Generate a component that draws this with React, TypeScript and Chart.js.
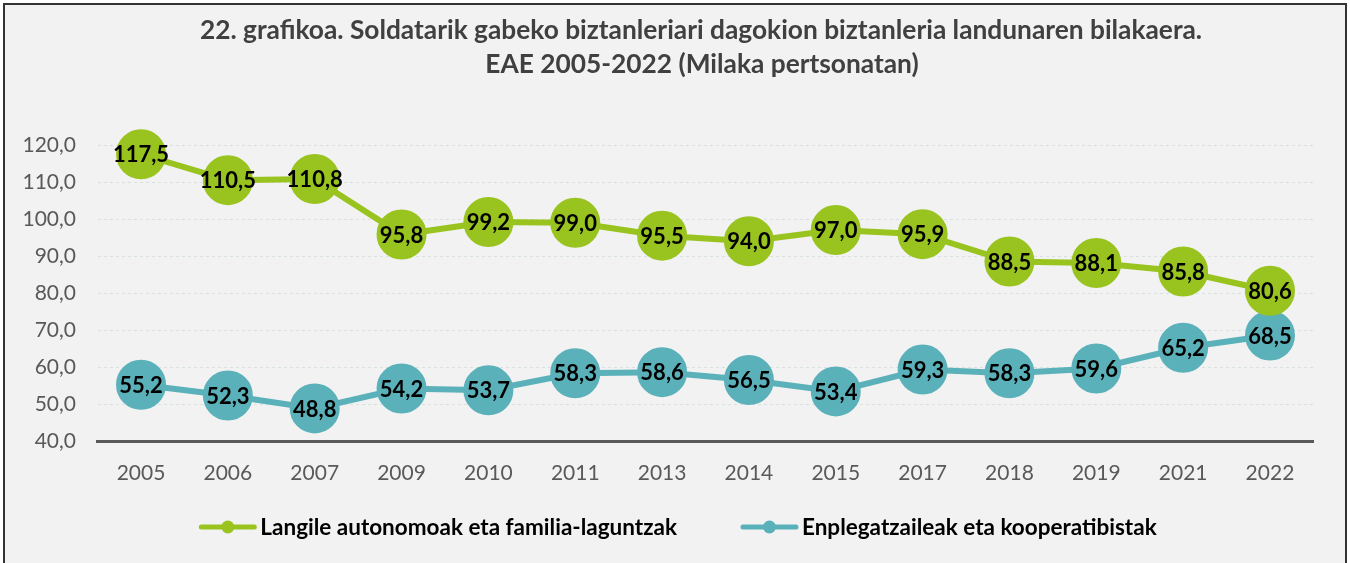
import React, { useEffect, useRef } from "react";
import { Chart, registerables } from "chart.js";

Chart.register(...registerables);

const years = ["2005", "2006", "2007", "2009", "2010", "2011", "2013", "2014", "2015", "2017", "2018", "2019", "2021", "2022"];
const autonomoak = [117.5, 110.5, 110.8, 95.8, 99.2, 99.0, 95.5, 94.0, 97.0, 95.9, 88.5, 88.1, 85.8, 80.6];
const enplegatzaileak = [55.2, 52.3, 48.8, 54.2, 53.7, 58.3, 58.6, 56.5, 53.4, 59.3, 58.3, 59.6, 65.2, 68.5];
const seriesNames = ["Langile autonomoak eta familia-laguntzak", "Enplegatzaileak eta kooperatibistak"];
const titleLines = [
  "22. grafikoa. Soldatarik gabeko biztanleriari dagokion biztanleria landunaren bilakaera.",
  "EAE 2005-2022 (Milaka pertsonatan)",
];

const GREEN = "#99c31f";
const TEAL = "#5bb1ba";
const FONT = "Lato, 'Open Sans', sans-serif";

const fmt = (v: number) => v.toFixed(1).replace(".", ",");

const backgroundPlugin = {
  id: "bgFrame",
  beforeDraw(chart: any) {
    const ctx = chart.ctx;
    ctx.save();
    ctx.fillStyle = "#ffffff";
    ctx.fillRect(0, 0, chart.width, chart.height);
    ctx.fillStyle = "#f2f2f2";
    ctx.fillRect(4, 4, chart.width - 8, chart.height + 10);
    ctx.strokeStyle = "#333333";
    ctx.lineWidth = 2;
    ctx.strokeRect(4, 4, chart.width - 8, chart.height + 10);
    ctx.restore();
  },
};

const titlePlugin = {
  id: "customTitle",
  afterDraw(chart: any) {
    const ctx = chart.ctx;
    ctx.save();
    ctx.font = `bold 26.3px ${FONT}`;
    ctx.fillStyle = "#404040";
    ctx.textAlign = "center";
    ctx.textBaseline = "alphabetic";
    ctx.fillText(titleLines[0], 701, 39);
    ctx.fillText(titleLines[1], 702, 73);
    ctx.restore();
  },
};

const valueLabelPlugin = {
  id: "valueLabels",
  afterDatasetsDraw(chart: any) {
    const ctx = chart.ctx;
    ctx.save();
    ctx.font = `bold 22px ${FONT}`;
    ctx.fillStyle = "#000000";
    ctx.textAlign = "center";
    ctx.textBaseline = "middle";
    chart.data.datasets.forEach((ds: any, di: number) => {
      const meta = chart.getDatasetMeta(di);
      meta.data.forEach((pt: any, i: number) => {
        ctx.fillText(fmt(ds.data[i]), pt.x, pt.y + 1);
      });
    });
    ctx.restore();
  },
};

const customLegendPlugin = {
  id: "customLegend",
  afterDraw(chart: any) {
    const ctx = chart.ctx;
    ctx.save();
    ctx.font = `bold 22.5px ${FONT}`;
    const markerW = 57;
    const textGap = 4;
    const itemGap = 64;
    const items = chart.data.datasets.map((ds: any) => ({
      label: ds.label,
      color: ds.borderColor,
      w: markerW + textGap + ctx.measureText(ds.label).width,
    }));
    const total = items.reduce((s: number, it: any) => s + it.w, 0) + itemGap * (items.length - 1);
    let x = 678 - total / 2;
    const y = 527;
    items.forEach((it: any) => {
      ctx.strokeStyle = it.color;
      ctx.lineWidth = 5;
      ctx.lineCap = "round";
      ctx.beginPath();
      ctx.moveTo(x + 2, y);
      ctx.lineTo(x + markerW - 2, y);
      ctx.stroke();
      ctx.fillStyle = it.color;
      ctx.beginPath();
      ctx.arc(x + markerW / 2, y, 6.5, 0, Math.PI * 2);
      ctx.fill();
      ctx.fillStyle = "#000000";
      ctx.textAlign = "left";
      ctx.textBaseline = "middle";
      ctx.fillText(it.label, x + markerW + textGap, y + 1);
      x += it.w + itemGap;
    });
    ctx.restore();
  },
};

export default function App() {
  const canvasRef = useRef<HTMLCanvasElement | null>(null);

  useEffect(() => {
    document.body.style.margin = "0";
    const canvas = canvasRef.current;
    if (!canvas) return;
    const chart = new Chart(canvas, {
      type: "line",
      data: {
        labels: years,
        datasets: [
          {
            label: seriesNames[0],
            data: autonomoak,
            borderColor: GREEN,
            backgroundColor: GREEN,
            pointBackgroundColor: GREEN,
            pointBorderColor: GREEN,
            borderWidth: 6,
            pointRadius: 22,
            pointHoverRadius: 22,
            tension: 0,
            clip: false,
          },
          {
            label: seriesNames[1],
            data: enplegatzaileak,
            borderColor: TEAL,
            backgroundColor: TEAL,
            pointBackgroundColor: TEAL,
            pointBorderColor: TEAL,
            borderWidth: 6,
            pointRadius: 22,
            pointHoverRadius: 22,
            tension: 0,
            clip: false,
          },
        ],
      },
      options: {
        responsive: false,
        animation: false,
        devicePixelRatio: 1,
        layout: { padding: { left: 10, right: 36.6, top: 145, bottom: 72 } },
        plugins: {
          legend: { display: false },
          tooltip: { enabled: false },
          title: { display: false },
        },
        scales: {
          x: {
            offset: true,
            grid: { display: false, drawTicks: false },
            border: { display: true, color: "#595959", width: 3 },
            ticks: {
              color: "#595959",
              font: { family: FONT, size: 21 },
              padding: 20,
              maxRotation: 0,
              autoSkip: false,
            },
            afterFit(scale: any) {
              scale.height = 50;
            },
          },
          y: {
            min: 40,
            max: 120,
            grid: { color: "#d9e0e0", lineWidth: 1, drawTicks: false },
            border: { display: false, dash: [3, 3] },
            ticks: {
              stepSize: 10,
              color: "#595959",
              font: { family: FONT, size: 21 },
              padding: 21.6,
              callback: (v: any) => fmt(Number(v)),
            },
            afterFit(scale: any) {
              scale.width = 87.6;
            },
          },
        },
      },
      plugins: [backgroundPlugin, titlePlugin, valueLabelPlugin, customLegendPlugin],
    });
    return () => chart.destroy();
  }, []);

  return (
    <div style={{ width: 1350, height: 563 }}>
      <canvas ref={canvasRef} width={1350} height={563} style={{ display: "block" }} />
    </div>
  );
}
